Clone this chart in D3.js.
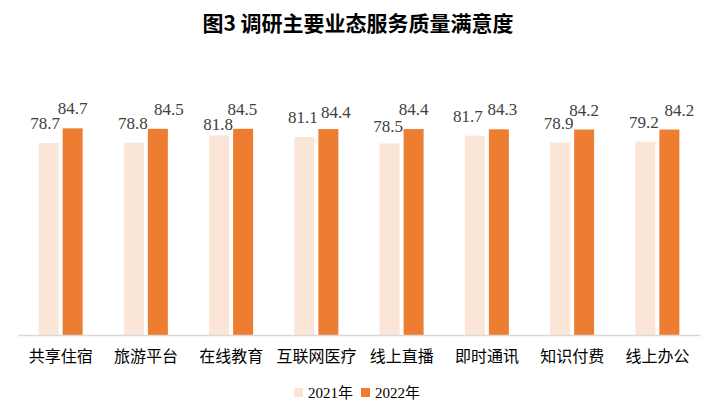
<!DOCTYPE html>
<html><head><meta charset="utf-8">
<script src="https://cdn.jsdelivr.net/npm/d3@7/dist/d3.min.js"></script>
<style>body{margin:0;background:#fff;}svg{display:block;}</style>
</head><body>
<svg id="chart" width="718" height="416"></svg>
<script>
const categories = ["共享住宿","旅游平台","在线教育","互联网医疗","线上直播","即时通讯","知识付费","线上办公"];
const seriesNames = ["2021年","2022年"];
const values2021 = [78.7,78.8,81.8,81.1,78.5,81.7,78.9,79.2];
const values2022 = [84.7,84.5,84.5,84.4,84.4,84.3,84.2,84.2];
const colors = ["#FBE5D6","#ED7D31"];
const yTicks = [0,100];

// label placement nudges (layout only), [dx, dy] per category per series
const labelNudge = [
  [[-3.5,0],[0,0]],
  [[-1,0],[11,0]],
  [[-1,9],[-0.7,0]],
  [[-1.6,0],[7.4,3.2]],
  [[-1.6,3],[0,0]],
  [[-7,0],[3.6,0]],
  [[-1.6,1],[0,0]],
  [[-1.4,0],[10,0]]
];

const svg = d3.select("#chart");
const left = 18, right = 700, base = 335, topY = 91;

const x = d3.scaleBand().domain(categories).range([left,right]).paddingInner(0.484).paddingOuter(0.242);
const xs = d3.scaleBand().domain(seriesNames).range([0,x.bandwidth()]).paddingInner(1/6);
const y = d3.scaleLinear().domain([yTicks[0], yTicks[1]]).range([base, topY]);

svg.append("text").attr("x", 358).attr("y", 24).attr("dy","0.35em")
  .attr("text-anchor","middle").attr("font-family","'Noto Sans CJK SC', sans-serif")
  .attr("font-weight","bold").attr("font-size",21).attr("fill","#000")
  .text("图3 调研主要业态服务质量满意度");

const data = categories.map((c,i)=>({c, i, vals:[values2021[i], values2022[i]]}));

const g = svg.append("g").selectAll("g").data(data).join("g")
  .attr("transform", d=>`translate(${x(d.c)},0)`);

g.selectAll("rect").data(d=>d.vals.map((v,j)=>({v,s:seriesNames[j],j,i:d.i}))).join("rect")
  .attr("x", d=>xs(d.s)).attr("width", xs.bandwidth())
  .attr("y", d=>y(d.v)).attr("height", d=>base - y(d.v))
  .attr("fill", d=>colors[d.j]);

g.selectAll("text.lbl").data(d=>d.vals.map((v,j)=>({v,s:seriesNames[j],j,i:d.i}))).join("text")
  .attr("class","lbl")
  .attr("x", d=>xs(d.s)+xs.bandwidth()/2 + labelNudge[d.i][d.j][0])
  .attr("y", d=>y(d.v)-14 + labelNudge[d.i][d.j][1])
  .attr("text-anchor","middle").attr("font-family","'Liberation Serif', serif")
  .attr("font-size",17).attr("fill","#404040")
  .text(d=>d.v.toFixed(1));

const axis = svg.append("g").attr("transform",`translate(0,${base})`)
  .call(d3.axisBottom(x).tickSize(0).tickSizeOuter(0));
axis.select(".domain").attr("stroke","#D9D9D9").attr("stroke-width",1.5);
axis.selectAll("text").attr("y",21).attr("dy","0.35em")
  .attr("font-family","'Noto Sans CJK SC', sans-serif").attr("font-size",16).attr("fill","#000");

const legend = svg.append("g");
const legX = [294, 361];
seriesNames.forEach((s,i)=>{
  legend.append("rect").attr("x",legX[i]).attr("y",388).attr("width",9).attr("height",9).attr("fill",colors[i]);
  legend.append("text").attr("x",legX[i]+14).attr("y",393).attr("dy","0.35em")
    .attr("font-family","'Liberation Serif', 'Noto Sans CJK SC', serif").attr("font-size",15).attr("fill","#000")
    .text(s);
});
</script>
</body></html>
